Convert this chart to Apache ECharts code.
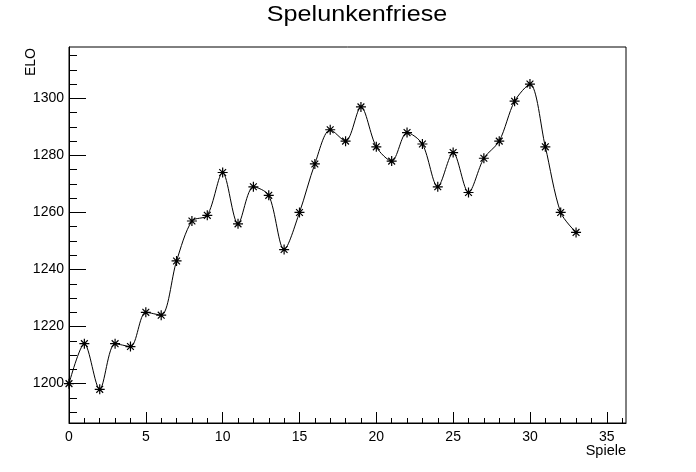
<!DOCTYPE html>
<html>
<head>
<meta charset="utf-8">
<script src="https://cdn.jsdelivr.net/npm/echarts@6/dist/echarts.min.js"></script>
<style>html,body{margin:0;padding:0;background:#fff;}#c{width:696px;height:472px;}</style>
</head>
<body>
<div id="c"></div>
<script>
// ---- data ----
var games = [0,1,2,3,4,5,6,7,8,9,10,11,12,13,14,15,16,17,18,19,20,21,22,23,24,25,26,27,28,29,30,31,32,33];
var elo = [1200,1214,1198,1214,1213,1225,1224,1243,1257,1259,1274,1256,1269,1266,1247,1260,1277,1289,1285,1297,1283,1278,1288,1284,1269,1281,1267,1279,1285,1299,1305,1283,1260,1253];
var xTickLabels = [0,5,10,15,20,25,30,35];
var yTickLabels = [1200,1220,1240,1260,1280,1300];
var xRange = [0, 36.25];
var yRange = [1186.2, 1318.0];

var points = games.map(function(g, i){ return [g, elo[i]]; });
var xMinor = [];
for (var v = 1; v <= 36; v++) xMinor.push(v);
var yMinor = [];
for (var w = 1190; w <= 1315; w += 5) yMinor.push(w);

var FONT = '"Liberation Sans", Arial, Helvetica, sans-serif';
var chart = echarts.init(document.getElementById('c'), null, {renderer: 'canvas'});
chart.setOption({
  animation: false,
  backgroundColor: '#fff',
  grid: {left: 69, right: 70, top: 47, bottom: 49, show: true, borderColor: '#000', borderWidth: 1, backgroundColor: 'transparent', containLabel: false, outerBoundsMode: 'none'},
  xAxis: [{
    type: 'value', min: xRange[0], max: xRange[1], position: 'bottom',
    axisLine: {show: true, onZero: false, lineStyle: {color: '#000', width: 1}},
    axisTick: {show: true, inside: true, length: 11, customValues: xTickLabels, lineStyle: {color: '#000', width: 1}},
    axisLabel: {show: true, customValues: xTickLabels, color: '#000', fontSize: 14, fontFamily: FONT, margin: 7,
      formatter: function(v){ return String(v); }},
    splitLine: {show: false}
  }, {
    type: 'value', min: xRange[0], max: xRange[1], position: 'bottom',
    axisLine: {show: false},
    axisTick: {show: true, inside: true, length: 5, customValues: xMinor, lineStyle: {color: '#000', width: 1}},
    axisLabel: {show: false},
    splitLine: {show: false}
  }],
  yAxis: [{
    type: 'value', min: yRange[0], max: yRange[1], position: 'left',
    axisLine: {show: true, onZero: false, lineStyle: {color: '#000', width: 1}},
    axisTick: {show: true, inside: true, length: 17, customValues: yTickLabels, lineStyle: {color: '#000', width: 1}},
    axisLabel: {show: true, customValues: yTickLabels, color: '#000', fontSize: 14, fontFamily: FONT, margin: 5,
      formatter: function(v){ return String(v); }},
    splitLine: {show: false}
  }, {
    type: 'value', min: yRange[0], max: yRange[1], position: 'left',
    axisLine: {show: false},
    axisTick: {show: true, inside: true, length: 8, customValues: yMinor, lineStyle: {color: '#000', width: 1}},
    axisLabel: {show: false},
    splitLine: {show: false}
  }],
  graphic: [
    {type: 'text', x: 357, y: 15.5, scaleX: 1.17, style: {text: 'Spelunkenfriese', fontSize: 21.5, fontFamily: FONT, fill: '#000', align: 'center', verticalAlign: 'middle'}},
    {type: 'text', x: 626, y: 451, style: {text: 'Spiele', fontSize: 14.5, fontFamily: FONT, fill: '#000', align: 'right', verticalAlign: 'middle'}},
    {type: 'text', x: 31.5, y: 48, rotation: Math.PI / 2, style: {text: 'ELO', fontSize: 14, fontFamily: FONT, fill: '#000', align: 'right', verticalAlign: 'middle'}}
  ],
  series: [{
    type: 'line', xAxisIndex: 0, yAxisIndex: 0, data: points,
    smooth: 0.3,
    lineStyle: {color: '#000', width: 1},
    symbol: 'path://M0 5L10 5M5 0L5 10M1.6 1.6L8.4 8.4M8.4 1.6L1.6 8.4',
    symbolSize: 10, symbolKeepAspect: true, showSymbol: true,
    itemStyle: {color: '#000', borderColor: '#000', borderWidth: 1.2},
    emphasis: {disabled: true},
    clip: false
  }]
});
</script>
</body>
</html>
